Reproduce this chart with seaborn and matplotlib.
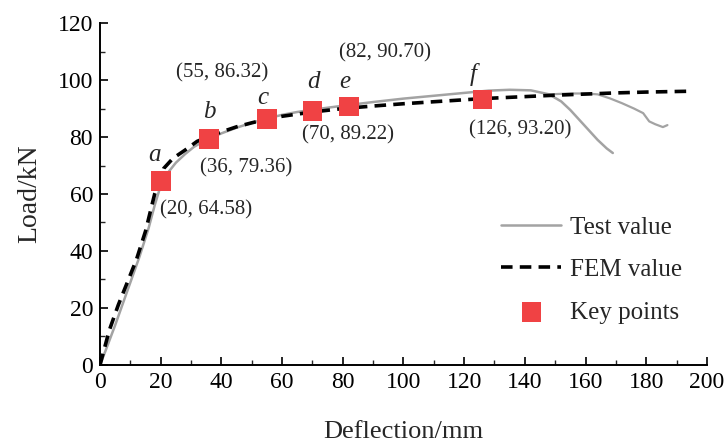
import matplotlib
matplotlib.use("Agg")
import matplotlib.pyplot as plt
import seaborn as sns
import pandas as pd
from matplotlib.ticker import MultipleLocator

# ---------------- data ----------------
test_x_main = [0, 2, 5, 8, 11, 13, 16, 18, 20, 22, 25, 28, 31, 35, 40, 45, 50, 55, 60, 65,
               70, 75, 80, 90, 100, 110, 120, 128, 135, 142, 148, 152, 155, 158, 161, 164, 167, 169]
test_y_main = [0, 5.5, 14, 23, 32, 38, 48, 56, 63, 67, 71, 74, 76.6, 79, 81.3, 83.3, 85, 86.5, 87.8, 88.8,
               89.6, 90.3, 91, 92.3, 93.5, 94.5, 95.5, 96.3, 96.6, 96.4, 95, 92.5, 89.5, 86, 82.5, 79, 76, 74.4]

test_x_branch = [148, 155, 160, 164, 168, 172, 176, 179, 181, 183, 185.5, 187]
test_y_branch = [95, 95.3, 95.3, 95, 93.6, 91.9, 90, 88.4, 85.5, 84.5, 83.5, 84.2]

fem_x = [0, 3, 6, 9, 12, 15, 18, 21, 24, 28, 32, 36, 40, 45, 50, 55, 60, 70, 80, 90, 100,
         110, 126, 140, 150, 160, 170, 180, 195]
fem_y = [0, 12, 21, 29, 37, 47, 60, 69, 72.5, 75.4, 78.5, 80.2, 81.8, 83.6, 85, 86.3, 87.3,
         88.8, 90, 90.9, 91.7, 92.4, 93.5, 94.2, 94.7, 95.1, 95.5, 95.8, 96.1]

key_letters = ["a", "b", "c", "d", "e", "f"]
key_x = [20, 36, 55, 70, 82, 126]
key_y = [64.58, 79.36, 86.32, 89.22, 90.70, 93.20]
key_labels = ["(20, 64.58)", "(36, 79.36)", "(55, 86.32)", "(70, 89.22)", "(82, 90.70)", "(126, 93.20)"]

# label placement (data coords)
coord_pos = [(35, 54.4), (48.1, 69.1), (40.2, 102.5), (81.7, 80.7), (93.9, 109.5), (138.4, 82.5)]
letter_pos = [(18.1, 73.7), (35.9, 88.8), (53.7, 93.7), (70.2, 99.3), (80.7, 99.3), (122.9, 101.8)]

# ---------------- style ----------------
sns.set_theme(style="ticks")
plt.rcParams["font.family"] = ["Liberation Serif", "DejaVu Serif"]

fig = plt.figure(figsize=(7.25, 4.45), dpi=100)
ax = fig.add_axes([0.138, 0.18, 0.837, 0.768])

df_test_main = pd.DataFrame({"x": test_x_main, "y": test_y_main})
df_test_br = pd.DataFrame({"x": test_x_branch, "y": test_y_branch})
df_fem = pd.DataFrame({"x": fem_x, "y": fem_y})
df_key = pd.DataFrame({"x": key_x, "y": key_y})

test_color = "#a3a3a3"
sns.lineplot(data=df_test_main, x="x", y="y", ax=ax, sort=False, estimator=None,
             color=test_color, lw=1.8, label="Test value")
sns.lineplot(data=df_test_br, x="x", y="y", ax=ax, sort=False, estimator=None,
             color=test_color, lw=1.6, label="_nolegend_")
sns.lineplot(data=df_fem, x="x", y="y", ax=ax, sort=False, estimator=None,
             color="black", lw=2.6, linestyle=(0, (3.2, 2.0)), label="FEM value")
sns.scatterplot(data=df_key, x="x", y="y", ax=ax, marker="s", s=200, color="#f04244",
                edgecolor="none", label="Key points", zorder=5)

for (tx, ty), t in zip(coord_pos, key_labels):
    ax.text(tx, ty, t, ha="center", va="center", fontsize=15)
for (tx, ty), t in zip(letter_pos, key_letters):
    ax.text(tx, ty, t, ha="center", va="center", fontsize=18, style="italic")

ax.set_xlim(0, 200)
ax.set_ylim(0, 120)
ax.xaxis.set_major_locator(MultipleLocator(20))
ax.xaxis.set_minor_locator(MultipleLocator(10))
ax.yaxis.set_major_locator(MultipleLocator(20))
ax.yaxis.set_minor_locator(MultipleLocator(10))
ax.tick_params(which="major", direction="in", length=6, width=1.2, labelsize=17, pad=5, colors="black")
ax.tick_params(which="minor", direction="in", length=3.5, width=1.0)
for s in ["top", "right"]:
    ax.spines[s].set_visible(False)
for s in ["left", "bottom"]:
    ax.spines[s].set_linewidth(1.4)
    ax.spines[s].set_color("black")

ax.set_xlabel("Deflection/mm", fontsize=19, labelpad=20)
ax.set_ylabel("Load/kN", fontsize=20, labelpad=11)

handles, labels = ax.get_legend_handles_labels()
leg = ax.legend(handles, labels, loc="center left", bbox_to_anchor=(0.645, 0.278),
                frameon=False, fontsize=18, handlelength=2.4, handletextpad=0.35,
                labelspacing=0.8, borderaxespad=0, borderpad=0.4)

fig.savefig("out.png", dpi=100)
